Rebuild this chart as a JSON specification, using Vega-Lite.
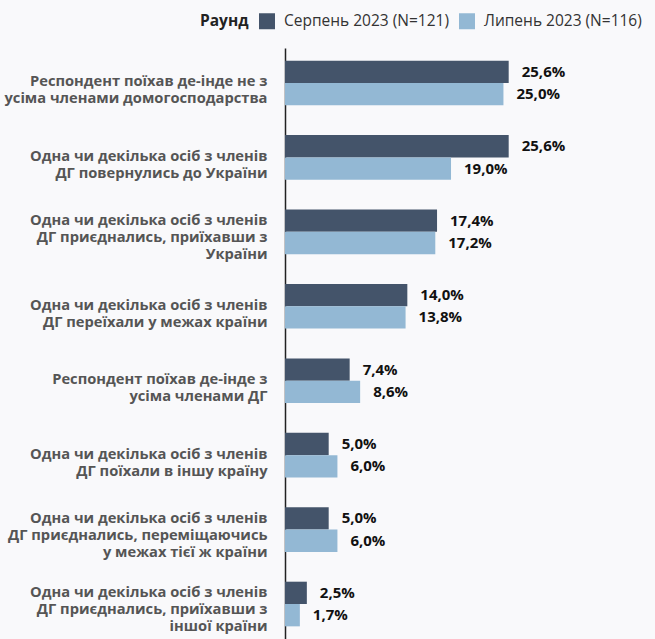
{
  "$schema": "https://vega.github.io/schema/vega-lite/v6.json",
  "width": 367,
  "height": 591,
  "autosize": {"type": "none"},
  "padding": {"left": 285, "top": 48, "right": 3, "bottom": 0},
  "background": "#f9f9fb",
  "config": {
    "view": {"stroke": null},
    "font": "Open Sans",
    "locale": {"number": {"decimal": ",", "thousands": " ", "grouping": [3], "currency": ["", ""]}}
  },
  "data": {
    "values": [
      {"cat": "Респондент поїхав де-інде не з|усіма членами домогосподарства", "round": "Серпень 2023 (N=121)", "value": 0.256},
      {"cat": "Респондент поїхав де-інде не з|усіма членами домогосподарства", "round": "Липень 2023 (N=116)", "value": 0.25},
      {"cat": "Одна чи декілька осіб з членів|ДГ повернулись до України", "round": "Серпень 2023 (N=121)", "value": 0.256},
      {"cat": "Одна чи декілька осіб з членів|ДГ повернулись до України", "round": "Липень 2023 (N=116)", "value": 0.19},
      {"cat": "Одна чи декілька осіб з членів|ДГ приєднались, приїхавши з|України", "round": "Серпень 2023 (N=121)", "value": 0.174},
      {"cat": "Одна чи декілька осіб з членів|ДГ приєднались, приїхавши з|України", "round": "Липень 2023 (N=116)", "value": 0.172},
      {"cat": "Одна чи декілька осіб з членів|ДГ переїхали у межах країни", "round": "Серпень 2023 (N=121)", "value": 0.14},
      {"cat": "Одна чи декілька осіб з членів|ДГ переїхали у межах країни", "round": "Липень 2023 (N=116)", "value": 0.138},
      {"cat": "Респондент поїхав де-інде з|усіма членами ДГ", "round": "Серпень 2023 (N=121)", "value": 0.074},
      {"cat": "Респондент поїхав де-інде з|усіма членами ДГ", "round": "Липень 2023 (N=116)", "value": 0.086},
      {"cat": "Одна чи декілька осіб з членів|ДГ поїхали в іншу країну", "round": "Серпень 2023 (N=121)", "value": 0.05},
      {"cat": "Одна чи декілька осіб з членів|ДГ поїхали в іншу країну", "round": "Липень 2023 (N=116)", "value": 0.06},
      {"cat": "Одна чи декілька осіб з членів|ДГ приєднались, переміщаючись|у межах тієї ж країни", "round": "Серпень 2023 (N=121)", "value": 0.05},
      {"cat": "Одна чи декілька осіб з членів|ДГ приєднались, переміщаючись|у межах тієї ж країни", "round": "Липень 2023 (N=116)", "value": 0.06},
      {"cat": "Одна чи декілька осіб з членів|ДГ приєднались, приїхавши з|іншої країни", "round": "Серпень 2023 (N=121)", "value": 0.025},
      {"cat": "Одна чи декілька осіб з членів|ДГ приєднались, приїхавши з|іншої країни", "round": "Липень 2023 (N=116)", "value": 0.017}
    ]
  },
  "encoding": {
    "y": {
      "field": "cat",
      "type": "nominal",
      "sort": null,
      "scale": {"paddingInner": 0.4, "paddingOuter": 0.17},
      "axis": {
        "title": null,
        "ticks": false,
        "domainColor": "#222222",
        "domainWidth": 1.5,
        "labelExpr": "split(datum.label, '|')",
        "labelFont": "Open Sans",
        "labelFontWeight": "bold",
        "labelFontSize": 14.7,
        "labelColor": "#555555",
        "labelLineHeight": 17,
        "labelPadding": 18,
        "labelLimit": 300,
        "labelOffset": {"expr": "-(length(split(datum.label, '|')) - 1) * 10.5 + 10"}
      }
    },
    "yOffset": {
      "field": "round",
      "type": "nominal",
      "sort": ["Серпень 2023 (N=121)", "Липень 2023 (N=116)"]
    },
    "x": {
      "field": "value",
      "type": "quantitative",
      "scale": {"domain": [0, 0.42]},
      "axis": null
    }
  },
  "layer": [
    {
      "mark": {"type": "bar"},
      "encoding": {
        "color": {
          "field": "round",
          "type": "nominal",
          "sort": ["Серпень 2023 (N=121)", "Липень 2023 (N=116)"],
          "scale": {"range": ["#44546a", "#93b8d4"]},
          "legend": {
            "title": "Раунд",
            "orient": "none",
            "legendX": -85,
            "legendY": -35,
            "direction": "horizontal",
            "titleOrient": "left",
            "titleAnchor": "middle",
            "titleBaseline": "middle",
            "titlePadding": 10,
            "titleFontWeight": "bold",
            "titleFontSize": 15.5,
            "titleColor": "#222222",
            "titleFont": "Open Sans",
            "labelFont": "Open Sans",
            "labelFontSize": 15.5,
            "labelLimit": 300,
            "labelColor": "#333333",
            "labelOffset": 9,
            "symbolType": "square",
            "symbolSize": 256,
            "symbolStrokeWidth": 0,
            "columnPadding": 10
          }
        }
      }
    },
    {
      "mark": {"type": "text", "align": "left", "baseline": "middle", "dx": 13, "fontWeight": "bold", "fontSize": 15, "color": "#111111", "font": "Open Sans"},
      "encoding": {
        "text": {"field": "value", "type": "quantitative", "format": ".1%"}
      }
    }
  ]
}
